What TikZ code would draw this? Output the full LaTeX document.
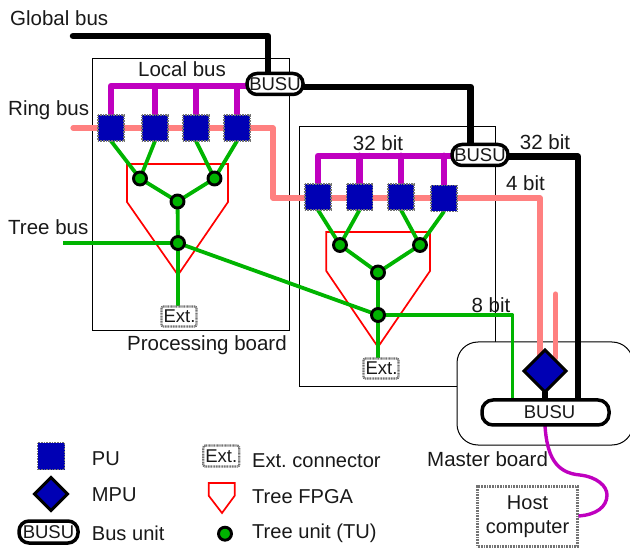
\documentclass[tikz,border=0pt]{standalone}
\usepackage{fontspec}
\setmainfont{Liberation Sans}
\usetikzlibrary{shapes.geometric}
\definecolor{publ}{RGB}{0,0,180}
\definecolor{purp}{RGB}{191,0,191}
\definecolor{pink}{RGB}{255,128,128}
\definecolor{grn}{RGB}{0,180,0}
\pgfdeclarelayer{boards}
\pgfdeclarelayer{wires}
\pgfsetlayers{boards,wires,main}
\frenchspacing
\tikzset{
  lbl/.style={inner sep=0pt,font=\fontsize{20.5}{24}\selectfont,text=black!90},
  lblleft/.style={lbl,anchor=west},
  keytext/.style={inner sep=0pt,anchor=west,font=\fontsize{20.1}{24}\selectfont,text=black!90},
  boardbox/.style={draw=black,line width=1pt,inner sep=0pt,outer sep=0pt},
  masterbox/.style={boardbox,fill=white,rounded corners=21pt},
  pu/.style={draw=black!55,line width=1.5pt,dash pattern=on 1pt off .6pt,fill=publ,minimum size=26pt,inner sep=0pt,outer sep=0pt},
  mpu/.style={diamond,aspect=1,draw=black,line width=3pt,fill=publ,inner sep=0pt,outer sep=0pt},
  busu/.style={draw=black,line width=3.5pt,fill=white,rounded corners=10pt,inner sep=0pt,outer sep=0pt,font=\fontsize{18.5}{22}\selectfont,text=black!90},
  tu/.style={circle,draw=black,line width=2.9pt,fill=grn,minimum size=13pt,inner sep=0pt,outer sep=0pt},
  extc/.style={draw=black!55,line width=2.2pt,dash pattern=on 1pt off .6pt,fill=white,rounded corners=2pt,minimum width=35pt,minimum height=20pt,inner sep=0pt,outer sep=0pt,font=\fontsize{18.5}{22}\selectfont,text=black!90},
  hostc/.style={draw=black!55,line width=2.4pt,dash pattern=on 1pt off .6pt,fill=white,minimum width=100pt,minimum height=60pt,inner sep=0pt,outer sep=0pt,align=center,font=\fontsize{20}{23.5}\selectfont,text=black!90},
  fpga/.style={draw=red,line width=1.7pt,line join=miter},
  ring/.style={draw=pink,line width=5.2pt,line cap=round,line join=round},
  tree/.style={draw=grn,line width=3.8pt},
  lbus/.style={draw=purp,line width=6.2pt,line cap=round,line join=round},
  gbus/.style={draw=black,line width=6.5pt,line cap=round,line join=round},
  hostl/.style={draw=purp,line width=3.4pt,line cap=round},
}
\begin{document}
\begin{tikzpicture}[x=1pt,y=-1pt]
\useasboundingbox (0,0) rectangle (630,548);
% boards
\begin{pgfonlayer}{boards}
\node[boardbox,minimum width=197pt,minimum height=272pt] (pb1) at (190.5,194.5) {};
\node[boardbox,minimum width=196pt,minimum height=260pt] (pb2) at (397,257) {};
\node[masterbox,minimum width=176pt,minimum height=103pt] (mb) at (545,393.5) {};
\end{pgfonlayer}
% processing units
\node[pu] (pa) at (111,128) {};
\node[pu] (pb) at (155,128) {};
\node[pu] (pc) at (196,128) {};
\node[pu] (pd) at (237,128) {};
\node[pu] (pe) at (318,197) {};
\node[pu] (pf) at (359.5,197) {};
\node[pu] (pg) at (401,197) {};
\node[pu] (ph) at (444,198.5) {};
% bus units
\node[busu,minimum width=56pt,minimum height=21pt] (ba) at (275,84) {BUSU};
\node[busu,minimum width=56pt,minimum height=21pt] (bb) at (480,155) {BUSU};
\node[busu,minimum width=127pt,minimum height=25pt,rounded corners=11pt] (bm) at (545.5,412.5) {\hspace*{8pt}BUSU};
% tree units
\node[tu] (ta) at (140,178.5) {};
\node[tu] (tb) at (214.5,178.5) {};
\node[tu] (tc) at (177.5,201.5) {};
\node[tu] (td) at (178,243) {};
\node[tu] (te) at (340,245) {};
\node[tu] (tf) at (420,245) {};
\node[tu] (tg) at (378,272.5) {};
\node[tu] (th) at (378,315) {};
% connectors
\node[extc] (ea) at (179,316.5) {\hspace*{1pt}Ext.};
\node[extc] (eb) at (381,368.5) {\hspace*{1pt}Ext.};
\node[mpu,minimum size=42pt] (mp) at (545,371) {};
\node[hostc] (host) at (527.5,516.5) {\raisebox{-2pt}{Host}\\\raisebox{-2pt}{computer}};
% free ends
\coordinate (gstart) at (73,36);
\coordinate (gcorner) at (268,36);
\coordinate (gend) at (268,74);
\coordinate (rstart) at (73,128);
\coordinate (rc1) at (273,128);
\coordinate (rc2) at (273,198);
\coordinate (rc3) at (540,198);
\coordinate (rend) at (540,358);
\coordinate (sstart) at (555.7,294);
\coordinate (send) at (555.7,358);
\coordinate (tstart) at (63,243);
\coordinate (bus1a) at (111,86);
\coordinate (bus1b) at (248,86);
\coordinate (bus2a) at (318,155.7);
\coordinate (bus2b) at (453,155.7);
\coordinate (bl1) at (304,87);
\coordinate (bl2) at (470.7,87);
\coordinate (bl3) at (470.7,145);
\coordinate (br1) at (509,156.7);
\coordinate (br2) at (578,156.7);
\coordinate (br3) at (578,400);
\coordinate (e8) at (512.5,315);
\coordinate (e8b) at (512.5,399);
\coordinate (hs) at (545,426);
\coordinate (he) at (578,516);
\begin{pgfonlayer}{wires}
% tree FPGAs
\draw[fpga] (127,164) -- (228,164) -- (228,202) -- (178,275) -- (127,202) -- cycle;
\draw[fpga] (326.3,232) -- (430,232) -- (430,271) -- (378,347) -- (326.3,271) -- cycle;
% ring bus
\draw[ring] (rstart) -- (rc1) -- (rc2) -- (rc3) -- (rend);
\draw[ring] (sstart) -- (send);
% tree bus
\draw[tree] (tstart) -- (td);
\draw[tree] (td) -- (th);
\draw[tree] (pa.south) -- (ta);
\draw[tree] (pb.south) -- (ta);
\draw[tree] (pc.south) -- (tb);
\draw[tree] (pd.south) -- (tb);
\draw[tree] (ta) -- (tc);
\draw[tree] (tb) -- (tc);
\draw[tree] (tc) -- (td);
\draw[tree] (td) -- (td |- ea.north);
\draw[tree] (pe.south) -- (te);
\draw[tree] (pf.south) -- (te);
\draw[tree] (pg.south) -- (tf);
\draw[tree] (ph.south) -- (tf);
\draw[tree] (te) -- (tg);
\draw[tree] (tf) -- (tg);
\draw[tree] (tg) -- (th);
\draw[tree] (th) -- (th |- eb.north);
\draw[tree,line join=round] (th) -- (e8) -- (e8b);
% local buses
\draw[lbus] (pa.north) -- (bus1a) -- (bus1b);
\draw[lbus] (pb.north) -- (pb.north |- bus1a);
\draw[lbus] (pc.north) -- (pc.north |- bus1a);
\draw[lbus] (pd.north) -- (pd.north |- bus1a);
\draw[lbus] (pe.north) -- (bus2a) -- (bus2b);
\draw[lbus] (pf.north) -- (pf.north |- bus2a);
\draw[lbus] (pg.north) -- (pg.north |- bus2a);
\draw[lbus] (ph.north) -- (ph.north |- bus2a);
% global bus
\draw[gbus] (gstart) -- (gcorner) -- (gend);
\draw[gbus] (bl1) -- (bl2) -- (bl3);
\draw[gbus] (br1) -- (br2) -- (br3);
\draw[gbus] (mp) -- (mp |- bm.north);
% host link
\draw[hostl] (hs) .. controls (547,455) and (555,473) .. (580,475) .. controls (597,477) and (607,486) .. (607,495) .. controls (607,507) and (596,515) .. (he);
\end{pgfonlayer}
% labels
\node[lblleft] (l1) at (10,18) {Global bus};
\node[lblleft] (l2) at (8,110) {Ring bus};
\node[lblleft] (l3) at (8,227) {Tree bus};
\node[lbl] (l4) at (182,69) {Local bus};
\node[lbl] (l5) at (378,143) {32 bit};
\node[lbl] (l6) at (545,142) {32 bit};
\node[lbl] (l7) at (525.5,183) {4 bit};
\node[lbl] (l8) at (491,305) {8 bit};
\node[lblleft] (l9) at (127,345.5) {Processing board};
\node[lblleft] (l10) at (427,459) {Master board};
% legend
\node[pu,minimum size=27pt] (kpu) at (51,456) {};
\node[mpu,minimum size=33pt] (kmpu) at (51,494) {};
\node[busu,minimum width=59pt,minimum height=22pt] (kb) at (48.5,532) {BUSU};
\node[extc,minimum width=36pt,minimum height=21pt] (ke) at (221.3,456) {Ext.};
\draw[fpga] (208.7,483) -- (234.7,483) -- (234.7,495.7) -- (222,513) -- (208.7,495.7) -- cycle;
\node[tu] (kt) at (225,533.7) {};
\node[keytext] (k1) at (91.7,458.5) {PU};
\node[keytext] (k2) at (91.7,495) {MPU};
\node[keytext] (k3) at (91.7,533) {Bus unit};
\node[keytext] (k4) at (252,461) {Ext. connector};
\node[keytext] (k5) at (252,497) {Tree FPGA};
\node[keytext] (k6) at (252,533.5) {Tree unit (TU)};
\end{tikzpicture}
\end{document}
